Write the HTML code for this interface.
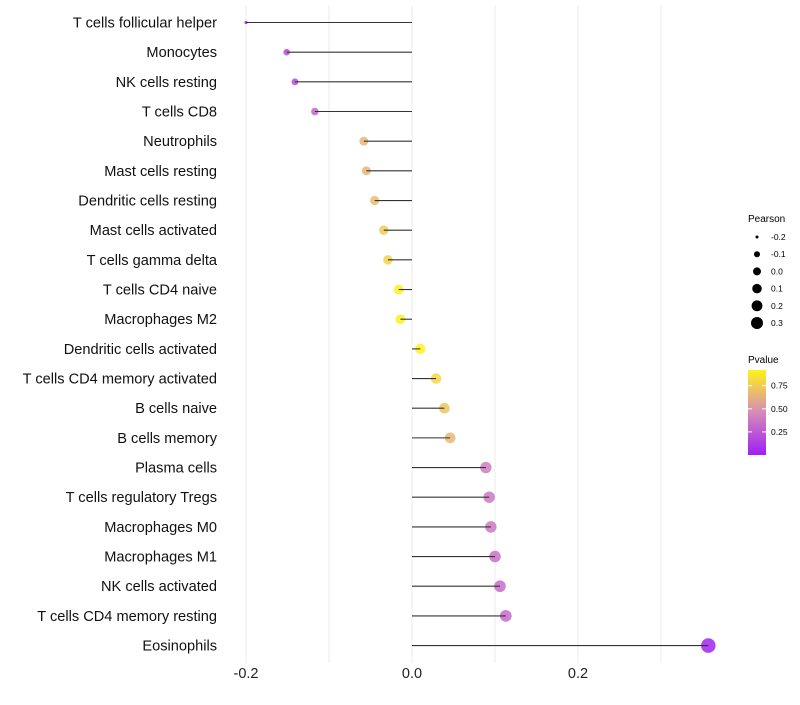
<!DOCTYPE html>
<html><head><meta charset="utf-8"><style>
body{margin:0;background:#fff;font-family:"Liberation Sans",sans-serif}
svg text{font-family:"Liberation Sans",sans-serif}
</style></head><body>
<svg id="chart" width="800" height="700">
<defs><linearGradient id="pg" x1="0" y1="1" x2="0" y2="0">
<stop offset="0" stop-color="#9f1ff6"/><stop offset="0.5" stop-color="#d58bb8"/><stop offset="1" stop-color="#fff21a"/></linearGradient></defs>
<g id="grid"></g><g id="marks"></g><g id="labels"></g>
<g>
<text x="748" y="222" font-size="10">Pearson</text>
<g id="sizeLegend"></g>
</g>
<g>
<text x="748" y="363" font-size="10">Pvalue</text>
<rect x="748" y="370" width="18" height="85" fill="url(#pg)"/>
<g id="colorLegend"></g>
</g>
</svg>
<script>
const categories=["T cells follicular helper","Monocytes","NK cells resting","T cells CD8","Neutrophils","Mast cells resting","Dendritic cells resting","Mast cells activated","T cells gamma delta","T cells CD4 naive","Macrophages M2","Dendritic cells activated","T cells CD4 memory activated","B cells naive","B cells memory","Plasma cells","T cells regulatory  Tregs ","Macrophages M0","Macrophages M1","NK cells activated","T cells CD4 memory resting","Eosinophils"];
const pearson=[-0.200,-0.151,-0.141,-0.117,-0.058,-0.055,-0.045,-0.034,-0.029,-0.016,-0.014,0.010,0.029,0.039,0.046,0.089,0.093,0.095,0.100,0.106,0.113,0.357];
const pvalue=[0.04,0.2,0.2,0.3,0.65,0.65,0.68,0.74,0.78,0.9,0.9,0.92,0.8,0.72,0.66,0.4,0.38,0.38,0.35,0.33,0.32,0.02];
const xTicks=[-0.2,0.0,0.2];
const xTickLabels=["-0.2","0.0","0.2"];
const xGrid=[-0.2,-0.1,0,0.1,0.2,0.3];
const sizeBreaks=[-0.2,-0.1,0.0,0.1,0.2,0.3];
const sizeLabels=["-0.2","-0.1","0.0","0.1","0.2","0.3"];
const colorBreaks=[0.25,0.5,0.75];
const colorLabels=["0.25","0.50","0.75"];
const NS="http://www.w3.org/2000/svg";
const x=v=>412+v*830;
const y=i=>22.5+i*29.67;
const r=v=>1.6+7.6*Math.sqrt(Math.max(0,v+0.2));
const rl=v=>Math.sqrt(Math.max(1,15.75+67.5*v));
const pMax=0.92;
function lerp(a,b,t){return a.map((c,i)=>Math.round(c+(b[i]-c)*t));}
function col(p){const t=Math.min(1,Math.max(0,p/pMax));const A=[159,31,246],B=[213,139,184],C=[255,242,26];
const c=t<0.5?lerp(A,B,t/0.5):lerp(B,C,(t-0.5)/0.5);return `rgb(${c.join(',')})`;}
function mk(tag,attrs,parent){const e=document.createElementNS(NS,tag);for(const k in attrs)e.setAttribute(k,attrs[k]);parent.appendChild(e);return e;}
const grid=document.getElementById('grid'),marks=document.getElementById('marks'),labels=document.getElementById('labels');
xGrid.forEach(v=>{const l=mk('line',{x1:x(v),x2:x(v),y1:5,y2:663,stroke:'#ebebeb','stroke-width':1},grid);

});
xTicks.forEach((v,i)=>{const t=mk('text',{x:x(v),y:678,'font-size':14.5,'text-anchor':'middle',fill:'#222'},labels);t.textContent=xTickLabels[i];

});
categories.forEach((c,i)=>{
const t=mk('text',{x:217,y:y(i)+5,'font-size':14.6,'text-anchor':'end',fill:'#111'},labels);t.textContent=c;


const d=mk('circle',{cx:x(pearson[i]),cy:y(i),r:r(pearson[i]),fill:col(pvalue[i]),'fill-opacity':0.85},marks);


const l=mk('line',{x1:x(0),x2:x(pearson[i]),y1:y(i),y2:y(i),stroke:'#333','stroke-width':1.1},marks);


});
const sl=document.getElementById('sizeLegend');
sizeBreaks.forEach((v,i)=>{const cy=237+i*17.2;
const c=mk('circle',{cx:757,cy:cy,r:rl(v),fill:'#000'},sl);


const t=mk('text',{x:771,y:cy+3,'font-size':8.5},sl);t.textContent=sizeLabels[i];

});
const cl=document.getElementById('colorLegend');
colorBreaks.forEach((v,i)=>{const cy=455-v/pMax*85;
const t=mk('text',{x:771,y:cy+3,'font-size':8.5},cl);t.textContent=colorLabels[i];


mk('line',{x1:748,x2:752,y1:cy,y2:cy,stroke:'#fff'},cl);mk('line',{x1:762,x2:766,y1:cy,y2:cy,stroke:'#fff'},cl);});
</script>
</body></html>
